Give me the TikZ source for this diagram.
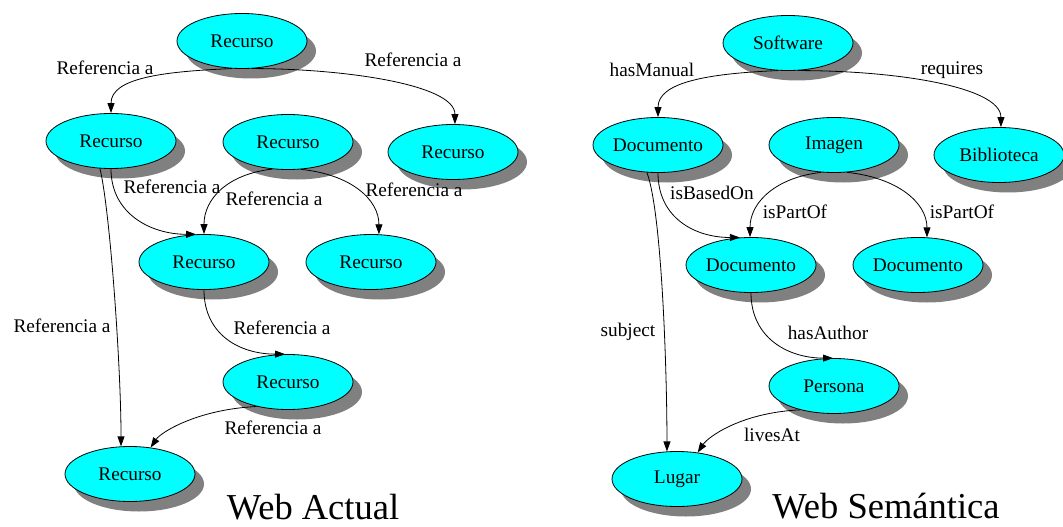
\documentclass[tikz,border=0pt]{standalone}
\usepackage{fontspec}
\setmainfont{Liberation Serif}
\usetikzlibrary{shapes.geometric,shadows,arrows.meta}
\definecolor{nodecyan}{RGB}{0,255,255}
\definecolor{shadowgray}{RGB}{128,128,128}

\begin{document}
\begin{tikzpicture}[x=1pt,y=-1pt,
  res/.style={ellipse,draw=black,line width=0.8pt,fill=nodecyan,
    minimum width=130pt,minimum height=55pt,inner sep=0pt,
    font=\fontsize{19.3}{22}\selectfont,
    drop shadow={shadow xshift=9pt,shadow yshift=-10pt,fill=shadowgray,opacity=1}},
  lbl/.style={font=\fontsize{19.3}{22}\selectfont,inner sep=0pt},
  ttl/.style={font=\fontsize{36.5}{42}\selectfont,inner sep=0pt,anchor=base},
  rel/.style={draw=black,line width=0.8pt,-{Triangle[length=10pt,width=7pt]}}]

\useasboundingbox (0,0) rectangle (1063,527);

% ---------- current web ----------
\node[res] (r1) at (242,41)  {Recurso};
\node[res] (r2) at (111,141) {Recurso};
\node[res] (r3) at (288,142) {Recurso};
\node[res] (r4) at (453,152) {Recurso};
\node[res] (r5) at (204,262) {Recurso};
\node[res] (r6) at (371,262) {Recurso};
\node[res] (r7) at (288,382) {Recurso};
\node[res] (r8) at (130,474) {Recurso};

\draw[rel] (r1.250) .. controls +(-70,3) and +(0,-35) .. (r2.north);
\draw[rel] (r1.290) .. controls +(90,0) and +(0,-40) .. (r4.86);
\draw[rel] (r2.south) .. controls +(0,45) and +(-45,0) .. (r5.106);
\draw[rel] (r2.248) .. controls +(10,40) and +(0,-80) .. (r8.108);
\draw[rel] (r3.240) .. controls +(-45,5) and +(0,-35) .. (r5.north);
\draw[rel] (r3.295) .. controls +(50,5) and +(0,-35) .. (r6.74);
\draw[rel] (r5.south) .. controls +(0,45) and +(-45,0) .. (r7.96);
\draw[rel] (r7.218) .. controls +(-60,3) and +(10,-15) .. (r8.52);

\node[lbl] (l1) at (105,68)  {Referencia a};
\node[lbl] (l2) at (413,60)  {Referencia a};
\node[lbl] (l3) at (172,187) {Referencia a};
\node[lbl] (l4) at (62,326)  {Referencia a};
\node[lbl] (l5) at (274,199) {Referencia a};
\node[lbl] (l6) at (414,190) {Referencia a};
\node[lbl] (l7) at (282,328) {Referencia a};
\node[lbl] (l8) at (273,428) {Referencia a};

\node[ttl] (t1) at (313,519) {Web Actual};

% ---------- semantic web ----------
\node[res] (sw)   at (788,43)  {Software};
\node[res] (d1)   at (658,145) {Documento};
\node[res] (im)   at (834,145) {Imagen};
\node[res] (bib)  at (999,155) {Biblioteca};
\node[res] (d2)   at (751,265) {Documento};
\node[res] (d3)   at (918,265) {Documento};
\node[res] (pers) at (834,386) {Persona};
\node[res] (lug)  at (677,479) {Lugar};

\draw[rel] (sw.250) .. controls +(-70,3) and +(0,-35) .. (d1.north);
\draw[rel] (sw.290) .. controls +(100,0) and +(0,-40) .. (bib.86);
\draw[rel] (d1.south) .. controls +(0,45) and +(-45,0) .. (d2.112);
\draw[rel] (d1.248) .. controls +(15,40) and +(0,-80) .. (lug.110);
\draw[rel] (im.245) .. controls +(-45,5) and +(0,-35) .. (d2.92);
\draw[rel] (im.295) .. controls +(50,5) and +(0,-35) .. (d3.72);
\draw[rel] (d2.south) .. controls +(0,45) and +(-45,0) .. (pers.92);
\draw[rel] (pers.215) .. controls +(-60,3) and +(10,-15) .. (lug.52);

\node[lbl] (m1) at (652,70)  {hasManual};
\node[lbl] (m2) at (952,70)  {requires};
\node[lbl] (m3) at (712,193) {isBasedOn};
\node[lbl] (m4) at (628,332) {subject};
\node[lbl] (m5) at (795,212) {isPartOf};
\node[lbl] (m6) at (962,212) {isPartOf};
\node[lbl] (m7) at (828,333) {hasAuthor};
\node[lbl] (m8) at (772,435) {livesAt};

\node[ttl] (t2) at (886,518) {Web Semántica};
\end{tikzpicture}
\end{document}
